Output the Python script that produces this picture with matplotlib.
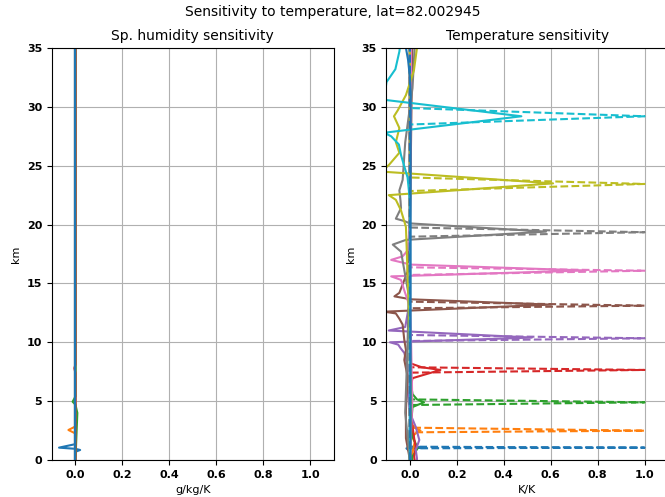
import matplotlib
matplotlib.use("Agg")
import matplotlib.pyplot as plt

lat = 82.002945

# perturbed level (km) and its neighbours below / above, one per series (C0..C10)
pert_km = [1.05, 2.49, 4.90, 7.65, 10.34, 13.11, 16.08, 19.35, 23.45, 29.2, 37.0]
pert_below = [0.99, 2.35, 4.67, 7.42, 10.11, 12.89, 15.72, 18.97, 22.85, 28.5, 36.0]
pert_above = [1.13, 2.75, 5.15, 7.88, 10.62, 13.45, 16.37, 19.75, 24.0, 29.9, 38.0]

# temperature response profiles (height km, K/K)
t_z = [
    [0, 0.7, 0.99, 1.05, 1.13, 1.4, 3, 35],
    [0, 0.5, 1.5, 2.0, 2.35, 2.5, 2.75, 3.1, 4, 35],
    [0, 0.3, 1.0, 2.0, 3, 4.5, 4.9, 5.15, 5.6, 7, 35],
    [0, 0.3, 1.1, 1.85, 3, 5.9, 6.95, 7.65, 7.88, 8.2, 10, 35],
    [0, 0.15, 0.85, 1.7, 2.8, 4.0, 6, 8, 9.1, 9.5, 9.8, 10.0, 10.4, 11.0, 11.3, 13, 20, 35],
    [0, 1.85, 4.25, 7.1, 8.5, 9.35, 10.2, 11.5, 12.0, 12.45, 12.6, 13.2, 13.65, 13.9, 14.2, 16, 20, 35],
    [0, 5, 10, 13, 14.4, 15.3, 15.6, 16.1, 16.6, 17.0, 17.3, 17.8, 20, 35],
    [0, 4, 10, 14, 17.7, 18.3, 18.7, 19.4, 20.1, 20.3, 20.5, 21.4, 22.0, 22.9, 23.8, 27, 31.6, 35],
    [0, 5, 10, 19.8, 21.2, 22.1, 22.5, 23.5, 24.5, 25.1, 26.1, 27.0, 28.2, 29.2, 29.7, 31.0, 33.1, 35],
    [0, 5, 15, 22, 24.0, 25.9, 26.8, 27.5, 27.8, 29.2, 30.6, 32.1, 33.2, 34.7, 35.5],
    [0, 31, 32.5, 34, 35, 36],
]
t_val = [
    [0.0, 0.0, -0.015, 0.06, -0.01, -0.005, 0.0, 0.0],
    [0.0, 0.01, 0.02, 0.01, 0.03, 0.045, 0.02, 0.005, 0.0, 0.0],
    [0.01, 0.011, 0.033, 0.011, 0.005, 0.011, 0.06, 0.03, 0.011, 0.0, 0.0],
    [0.02, 0.018, 0.025, 0.018, 0.01, 0.0, 0.011, 0.13, 0.05, 0.004, 0.0, 0.0],
    [0.03, 0.03, 0.025, 0.04, 0.025, 0.0, -0.01, -0.01, -0.024, -0.04, -0.05, -0.085, 0.52, -0.09, -0.02, -0.005, 0.0, 0.005],
    [0.0, -0.017, -0.017, -0.01, -0.024, -0.017, -0.024, -0.031, -0.045, -0.06, -0.11, 0.6, 0.004, -0.066, -0.045, -0.01, 0.0, 0.01],
    [0.0, 0.01, 0.005, 0.0, -0.024, -0.038, -0.08, 0.75, 0.004, -0.08, -0.031, -0.01, 0.0, 0.005],
    [0.0, -0.02, -0.01, -0.005, -0.038, -0.073, -0.017, 0.58, 0.0, -0.024, -0.06, -0.038, -0.04, -0.045, -0.031, -0.02, 0.011, 0.02],
    [0.0, 0.005, 0.0, -0.017, -0.038, -0.06, -0.09, 0.61, -0.12, -0.088, -0.045, -0.06, -0.045, -0.068, -0.052, -0.017, 0.017, 0.03],
    [0.0, 0.0, 0.0, 0.0, -0.01, -0.038, -0.047, -0.08, -0.11, 0.475, -0.11, -0.1, -0.062, -0.045, -0.04],
    [0.003, 0.003, 0.0, -0.008, -0.017, -0.03],
]

# specific humidity response profiles (height km, g/kg/K)
q_z = [
    [0, 0.7, 0.85, 0.95, 1.05, 1.35, 2, 35],
    [0, 2.25, 2.55, 2.85, 35],
    [0, 4.0, 4.7, 4.95, 5.4, 35],
    [0, 7.4, 7.8, 8.1, 35],
    [0, 35], [0, 35], [0, 35], [0, 35], [0, 35], [0, 35],
    [0, 36],
]
q_val = [
    [0.0, 0.0, 0.02, 0.0, -0.07, 0.0, 0.0, 0.0],
    [0.0, 0.0, -0.03, 0.0, 0.0],
    [0.0, 0.008, 0.0, -0.012, 0.0, 0.0],
    [0.0, 0.0, -0.005, 0.0, 0.0],
    [0.0, 0.0], [0.0, 0.0], [0.0, 0.0], [0.0, 0.0], [0.0, 0.0], [0.0, 0.0],
    [0.0, 0.0],
]

fig, (ax1, ax2) = plt.subplots(1, 2, figsize=(6.65, 4.97), dpi=100)
fig.subplots_adjust(left=52 / 665, right=668 / 665, bottom=37 / 497, top=449 / 497, wspace=0.188)

for i in range(len(pert_km)):
    c = "C%d" % i
    ax1.plot(q_val[i], q_z[i], color=c)
    ax2.plot(t_val[i], t_z[i], color=c)
    pz = [0, pert_below[i], pert_km[i], pert_above[i], 40]
    px = [0, 0, 1.0, 0, 0]
    ax2.plot(px, pz, "--", color=c)

fig.suptitle("Sensitivity to temperature, lat=%f" % lat, fontsize=10, y=0.99)
ax1.set_title("Sp. humidity sensitivity", fontsize=10)
ax2.set_title("Temperature sensitivity", fontsize=10)
ax1.set_xlabel("g/kg/K", fontsize=8)
ax2.set_xlabel("K/K", fontsize=8)

for ax in (ax1, ax2):
    ax.set_ylabel("km", fontsize=8)
    ax.set_xlim(-0.1, 1.1)
    ax.set_ylim(0, 35)
    ax.set_xticks([0.0, 0.2, 0.4, 0.6, 0.8, 1.0])
    ax.grid(True)
    ax.tick_params(labelsize=8)
    for lab in ax.get_xticklabels() + ax.get_yticklabels():
        lab.set_fontweight("bold")

plt.savefig("out.png", dpi=100)
